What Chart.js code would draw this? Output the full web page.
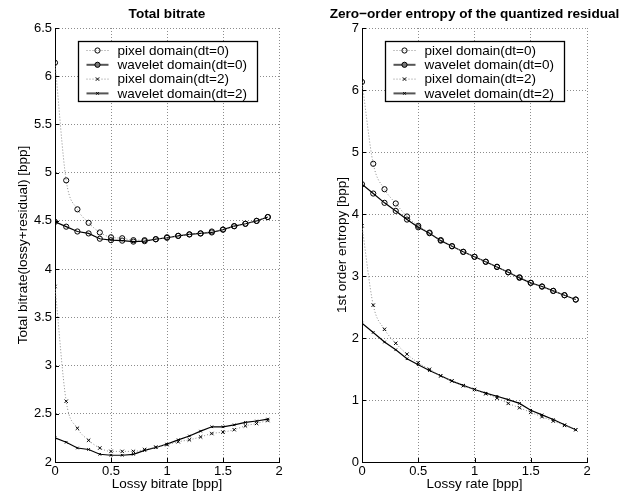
<!DOCTYPE html>
<html lang="en">
<head>
    <meta charset="UTF-8">
    <title>Total bitrate / residual entropy</title>
    <script src="https://cdn.jsdelivr.net/npm/chart.js@4.4.3/dist/chart.umd.min.js"></script>
    <style>
        html, body { margin: 0; padding: 0; background: #fff; }
        #wrap { position: relative; width: 631px; height: 492px; }
        #wrap canvas { position: absolute; top: 0; }
        #bitrateChart { left: 0; }
        #entropyChart { left: 315px; }
    </style>
</head>
<body>
    <div id="wrap">
        <canvas id="bitrateChart" width="315" height="492"></canvas>
        <canvas id="entropyChart" width="316" height="492"></canvas>
    </div>
    <script>
        // lossy rate samples [bpp], shared by both panels
        const lossyRate = [0, 0.1, 0.2, 0.3, 0.4, 0.5, 0.6, 0.7, 0.8, 0.9, 1.0, 1.1, 1.2, 1.3, 1.4, 1.5, 1.6, 1.7, 1.8, 1.9];

        const seriesNames = ['pixel domain(dt=0)', 'wavelet domain(dt=0)', 'pixel domain(dt=2)', 'wavelet domain(dt=2)'];

        // left panel: total bitrate (lossy + residual)
        const totalPixelDt0   = [6.14, 4.92, 4.62, 4.48, 4.38, 4.33, 4.32, 4.30, 4.30, 4.31, 4.33, 4.345, 4.36, 4.37, 4.39, 4.41, 4.445, 4.47, 4.50, 4.54];
        const totalWaveletDt0 = [4.49, 4.44, 4.39, 4.37, 4.315, 4.30, 4.295, 4.285, 4.29, 4.31, 4.325, 4.345, 4.36, 4.37, 4.38, 4.41, 4.445, 4.47, 4.50, 4.54];
        const totalPixelDt2   = [3.82, 2.63, 2.35, 2.225, 2.145, 2.11, 2.11, 2.11, 2.13, 2.155, 2.18, 2.21, 2.23, 2.26, 2.295, 2.31, 2.335, 2.375, 2.40, 2.43];
        const totalWaveletDt2 = [2.25, 2.205, 2.145, 2.13, 2.08, 2.07, 2.07, 2.08, 2.12, 2.15, 2.185, 2.23, 2.27, 2.32, 2.365, 2.365, 2.385, 2.41, 2.425, 2.445];

        // right panel: zero-order entropy of the quantized residual
        const entropyPixelDt0   = [6.13, 4.81, 4.40, 4.17, 3.96, 3.81, 3.70, 3.58, 3.48, 3.39, 3.31, 3.23, 3.15, 3.06, 2.98, 2.89, 2.83, 2.76, 2.69, 2.62];
        const entropyWaveletDt0 = [4.48, 4.33, 4.18, 4.05, 3.91, 3.785, 3.69, 3.57, 3.48, 3.39, 3.31, 3.23, 3.145, 3.06, 2.97, 2.89, 2.83, 2.76, 2.69, 2.62];
        const entropyPixelDt2   = [3.81, 2.53, 2.14, 1.915, 1.74, 1.60, 1.495, 1.39, 1.31, 1.23, 1.17, 1.10, 1.03, 0.945, 0.875, 0.80, 0.73, 0.66, 0.59, 0.52];
        const entropyWaveletDt2 = [2.24, 2.09, 1.935, 1.81, 1.665, 1.57, 1.475, 1.39, 1.305, 1.235, 1.17, 1.11, 1.06, 1.005, 0.945, 0.835, 0.76, 0.685, 0.60, 0.52];

        // tick values
        const rateTicks = [0, 0.5, 1, 1.5, 2];
        const bitrateTicks = [2, 2.5, 3, 3.5, 4, 4.5, 5, 5.5, 6, 6.5];
        const entropyTicks = [0, 1, 2, 3, 4, 5, 6, 7];

        const FONT = '"Liberation Sans", Arial, Helvetica, sans-serif';

        const toPoints = (ys) => lossyRate.map((x, i) => ({ x: x, y: ys[i] }));

        // styles for the four series (pixel = dotted grey, wavelet = solid black)
        const makeDatasets = (values) => [
            { label: seriesNames[0], data: toPoints(values[0]), borderColor: '#8a8a8a', borderWidth: 1, borderDash: [1, 2],
              cubicInterpolationMode: 'monotone', pointStyle: 'circle', pointRadius: 2.6,
              pointBorderColor: '#000', pointBackgroundColor: 'rgba(0,0,0,0)', pointBorderWidth: 1,
              legendColor: '#8a8a8a', legendWidth: 1, legendFill: 'rgba(0,0,0,0)' },
            { label: seriesNames[1], data: toPoints(values[1]), borderColor: '#000', borderWidth: 1.2,
              pointStyle: 'circle', pointRadius: 2.6,
              pointBorderColor: '#000', pointBackgroundColor: 'rgba(0,0,0,0)', pointBorderWidth: 1,
              legendColor: '#555', legendWidth: 2, legendFill: '#777' },
            { label: seriesNames[2], data: toPoints(values[2]), borderColor: '#8a8a8a', borderWidth: 1, borderDash: [1, 2],
              cubicInterpolationMode: 'monotone', pointStyle: 'crossRot', pointRadius: 2.4,
              pointBorderColor: '#000', pointBorderWidth: 1,
              legendColor: '#8a8a8a', legendWidth: 1, legendFill: '#000' },
            { label: seriesNames[3], data: toPoints(values[3]), borderColor: '#000', borderWidth: 1.2,
              pointStyle: 'crossRot', pointRadius: 1.8,
              pointBorderColor: '#000', pointBorderWidth: 1,
              legendColor: '#555', legendWidth: 2, legendFill: '#000' }
        ];

        // title, inward ticks and boxed legend in the MATLAB look
        const matlabLook = {
            id: 'matlabLook',
            afterDraw(chart, args, opts) {
                const { ctx, chartArea: a, scales: { x, y } } = chart;
                ctx.save();

                ctx.strokeStyle = '#000';
                ctx.lineWidth = 1;
                ctx.beginPath();
                x.ticks.forEach(t => {
                    const px = Math.round(x.getPixelForValue(t.value)) + 0.5;
                    ctx.moveTo(px, a.bottom);
                    ctx.lineTo(px, a.bottom - 4);
                });
                y.ticks.forEach(t => {
                    const py = Math.round(y.getPixelForValue(t.value)) + 0.5;
                    ctx.moveTo(a.left, py);
                    ctx.lineTo(a.left + 4, py);
                });
                ctx.stroke();

                ctx.fillStyle = '#000';
                ctx.font = 'bold 13.6px ' + FONT;
                ctx.textAlign = 'center';
                ctx.textBaseline = 'middle';
                ctx.fillText(opts.text, (a.left + a.right) / 2, 14);

                // legend box
                const bx = Math.round(a.left + 23) + 0.5, by = Math.round(a.top + 13) + 0.5;
                const bw = 179, bh = 60;
                ctx.fillStyle = '#fff';
                ctx.fillRect(bx, by, bw, bh);
                ctx.lineWidth = 1.3;
                ctx.strokeStyle = '#000';
                ctx.strokeRect(bx, by, bw, bh);

                chart.data.datasets.forEach((ds, i) => {
                    const ry = by + 9 + i * 14.3;
                    ctx.setLineDash(ds.borderDash || []);
                    ctx.strokeStyle = ds.legendColor;
                    ctx.lineWidth = ds.legendWidth;
                    ctx.beginPath();
                    ctx.moveTo(bx + 8, ry);
                    ctx.lineTo(bx + 30, ry);
                    ctx.stroke();
                    ctx.setLineDash([]);
                    ctx.strokeStyle = '#000';
                    ctx.fillStyle = ds.legendFill;
                    ctx.lineWidth = 1;
                    Chart.helpers.drawPoint(ctx, { pointStyle: ds.pointStyle, radius: ds.pointRadius, borderWidth: 1, rotation: 0 }, bx + 19, ry);
                    ctx.fillStyle = '#000';
                    ctx.font = '13.5px ' + FONT;
                    ctx.textAlign = 'left';
                    ctx.fillText(ds.label, bx + 39, ry + 0.5);
                });
                ctx.restore();
            }
        };

        const makeChart = (canvasId, cfg) => {
            const ctx = document.getElementById(canvasId).getContext('2d');
            return new Chart(ctx, {
                type: 'line',
                data: { datasets: makeDatasets(cfg.values) },
                options: {
                    responsive: false,
                    animation: false,
                    layout: { padding: { left: 0, right: cfg.padRight, top: 28, bottom: 0 } },
                    elements: { line: { tension: 0 } },
                    plugins: {
                        legend: { display: false },
                        title: { display: false },
                        tooltip: { enabled: false },
                        matlabLook: { text: cfg.title }
                    },
                    scales: {
                        x: {
                            type: 'linear',
                            min: 0,
                            max: 2,
                            afterBuildTicks: (s) => { s.ticks = rateTicks.map(v => ({ value: v })); },
                            afterFit: (s) => { s.height = 30; },
                            ticks: {
                                color: '#000',
                                padding: 2,
                                font: { family: FONT, size: 13 },
                                callback: (v) => String(v)
                            },
                            grid: { color: '#8c8c8c', drawTicks: false, lineWidth: 1 },
                            border: { display: true, color: '#000', width: 1, dash: [1, 2] },
                            title: {
                                display: true,
                                text: cfg.xTitle,
                                color: '#000',
                                font: { family: FONT, size: 13.5 },
                                padding: { top: 0, bottom: 0 }
                            }
                        },
                        y: {
                            type: 'linear',
                            min: cfg.yTicks[0],
                            max: cfg.yTicks[cfg.yTicks.length - 1],
                            afterBuildTicks: (s) => { s.ticks = cfg.yTicks.map(v => ({ value: v })); },
                            afterFit: (s) => { s.width = cfg.yWidth; },
                            ticks: {
                                color: '#000',
                                padding: 3,
                                font: { family: FONT, size: 13 },
                                callback: (v) => String(v)
                            },
                            grid: { color: '#8c8c8c', drawTicks: false, lineWidth: 1 },
                            border: { display: true, color: '#000', width: 1, dash: [1, 2] },
                            title: {
                                display: true,
                                text: cfg.yTitle,
                                color: '#000',
                                font: { family: FONT, size: 13.5 },
                                padding: { top: cfg.yTitlePad, bottom: 0 }
                            }
                        }
                    }
                },
                plugins: [matlabLook]
            });
        };

        makeChart('bitrateChart', {
            title: 'Total bitrate',
            xTitle: 'Lossy bitrate [bpp]',
            yTitle: 'Total bitrate(lossy+residual) [bpp]',
            yTicks: bitrateTicks,
            yWidth: 55,
            yTitlePad: 15,
            padRight: 36,
            values: [totalPixelDt0, totalWaveletDt0, totalPixelDt2, totalWaveletDt2]
        });

        makeChart('entropyChart', {
            title: 'Zero\u2212order entropy of the quantized residual',
            xTitle: 'Lossy rate [bpp]',
            yTitle: '1st order entropy [bpp]',
            yTicks: entropyTicks,
            yWidth: 47,
            yTitlePad: 19,
            padRight: 44,
            values: [entropyPixelDt0, entropyWaveletDt0, entropyPixelDt2, entropyWaveletDt2]
        });
    </script>
</body>
</html>
